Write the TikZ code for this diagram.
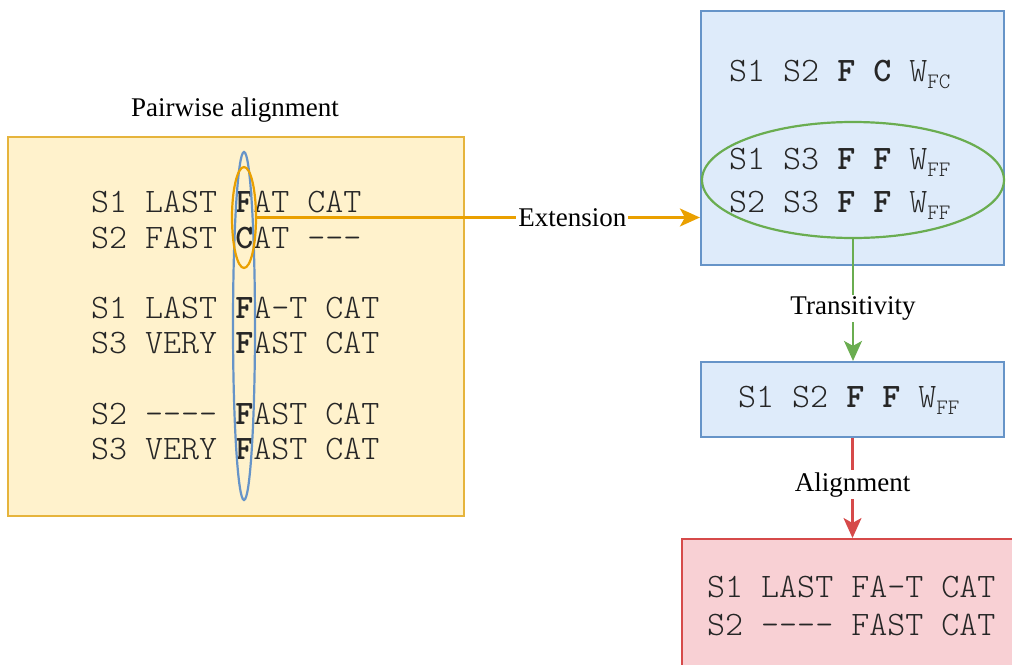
\documentclass[tikz,border=0pt]{standalone}
\usepackage{fontspec}
\setmainfont{Liberation Serif}
\newfontfamily\monof{lmmonolt10-regular.otf}[BoldFont=lmmonolt10-bold.otf]
\usetikzlibrary{arrows.meta,shapes.geometric}
\definecolor{yfill}{HTML}{FFF2CC}
\definecolor{ydraw}{HTML}{E6B43C}
\definecolor{bfill}{HTML}{DEEBFA}
\definecolor{bdraw}{HTML}{6694C8}
\definecolor{rfill}{HTML}{F8D0D4}
\definecolor{rdraw}{HTML}{D64A4A}
\definecolor{ocol}{HTML}{EAA000}
\definecolor{gcol}{HTML}{6AAD50}
\newcommand\wsub[1]{\raisebox{-7pt}{\fontsize{22}{22}\selectfont #1}}
\tikzset{
  box/.style={draw, line width=2.2pt, inner sep=0pt, minimum width=#1},
  seq/.style={anchor=base west, inner sep=0pt, font=\monof\fontsize{34.3}{34.3}\selectfont, text=black!85},
  lbl/.style={fill=white, inner sep=2pt, yshift=-2.5pt, font=\fontsize{27}{27}\selectfont},
  ell/.style={ellipse, draw, line width=2.2pt, inner sep=0pt},
  conn/.style={line width=2.2pt, -{Stealth[length=20pt,width=18pt,inset=5pt]}}
}
\begin{document}
\begin{tikzpicture}[x=1pt,y=-1pt]
\useasboundingbox (0,0) rectangle (1012,664);
% left box
\node[box=456pt, minimum height=379pt, fill=yfill, draw=ydraw] (lb) at (236,326.5) {};
\node[font=\fontsize{27}{27}\selectfont, inner sep=0pt] (title) at (235,110.5) {Pairwise alignment};
\node[seq] (l1) at (91,212) {S1 LAST {\bfseries F}AT CAT};
\node[seq] (l2) at (91,248) {S2 FAST {\bfseries C}AT ---};
\node[seq] (l3) at (91,318.5) {S1 LAST {\bfseries F}A-T CAT};
\node[seq] (l4) at (91,353.5) {S3 VERY {\bfseries F}AST CAT};
\node[seq] (l5) at (91,424) {S2 ---- {\bfseries F}AST CAT};
\node[seq] (l6) at (91,459.5) {S3 VERY {\bfseries F}AST CAT};
\node[ell, draw=bdraw, minimum width=22pt, minimum height=348pt] (be) at (244,326) {};
\node[ell, draw=ocol, minimum width=24pt, minimum height=101pt] (oe) at (244,217.5) {};
% top right box
\node[box=303pt, minimum height=254pt, fill=bfill, draw=bdraw] (tb) at (852.5,138) {};
\node[seq] (t1) at (729,81) {S1 S2 {\bfseries F} {\bfseries C} W\wsub{FC}};
\node[ell, draw=gcol, minimum width=302pt, minimum height=116pt] (ge) at (853,180) {};
\node[seq] (t2) at (729,169) {S1 S3 {\bfseries F} {\bfseries F} W\wsub{FF}};
\node[seq] (t3) at (729,212) {S2 S3 {\bfseries F} {\bfseries F} W\wsub{FF}};
% middle box
\node[box=303pt, minimum height=75pt, fill=bfill, draw=bdraw] (mb) at (852.5,399.5) {};
\node[seq] (m1) at (738,407) {S1 S2 {\bfseries F} {\bfseries F} W\wsub{FF}};
% bottom box
\node[box=338pt, minimum height=164pt, fill=rfill, draw=rdraw, anchor=north west] (rb) at (681,538) {};
\node[seq] (r1) at (707,597) {S1 LAST FA-T CAT};
\node[seq] (r2) at (707,635) {S2 ---- FAST CAT};
% connectors
\draw[conn, draw=ocol, fill=ocol] (oe.east) -- (oe.east -| tb.west)
  node[lbl, pos=0.712, yshift=2.5pt] (ext) {Extension};
\draw[conn, draw=gcol, fill=gcol] (ge.south) -- (ge.south |- mb.north)
  node[lbl, pos=0.55] (tra) {Transitivity};
\draw[conn, draw=rdraw, fill=rdraw] (mb.south) -- (mb.south |- rb.north)
  node[lbl, pos=0.44] (ali) {Alignment};
\end{tikzpicture}
\end{document}
